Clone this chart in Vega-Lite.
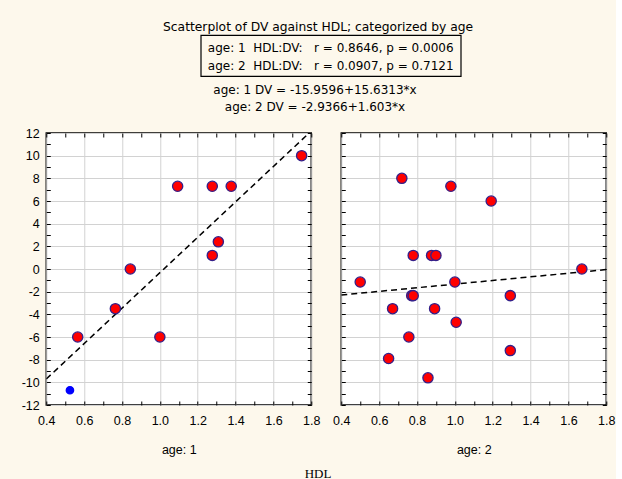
{
  "$schema": "https://vega.github.io/schema/vega-lite/v6.json",
  "background": "#fdf8ec",
  "padding": {"left": 20, "top": 21, "right": 0, "bottom": 0},
  "config": {
    "font": "DejaVu Sans",
    "view": {"stroke": null},
    "axis": {
      "tickColor": "black", "tickSize": -4, "tickWidth": 1, "minExtent": 0,
      "labelColor": "black", "labelFontSize": 12.5, "labelFont": "Liberation Sans",
      "titleColor": "black", "titleFontSize": 12.5, "titleFontWeight": "normal", "titleFont": "Liberation Sans",
      "domain": false, "labelFlush": false, "labelOverlap": false,
      "gridColor": "#d2d2d2", "gridWidth": 1
    },
    "axisX": {"minExtent": 0},
    "axisY": {"minExtent": 0}
  },
  "datasets": {
    "points": [
      {"age": 1, "HDL": 0.525, "DV": -10.7, "marked": true},
      {"age": 1, "HDL": 0.566, "DV": -6.0, "marked": false},
      {"age": 1, "HDL": 0.765, "DV": -3.5, "marked": false},
      {"age": 1, "HDL": 0.844, "DV": 0.0, "marked": false},
      {"age": 1, "HDL": 1.0, "DV": -6.0, "marked": false},
      {"age": 1, "HDL": 1.094, "DV": 7.3, "marked": false},
      {"age": 1, "HDL": 1.277, "DV": 7.3, "marked": false},
      {"age": 1, "HDL": 1.377, "DV": 7.3, "marked": false},
      {"age": 1, "HDL": 1.277, "DV": 1.2, "marked": false},
      {"age": 1, "HDL": 1.309, "DV": 2.4, "marked": false},
      {"age": 1, "HDL": 1.749, "DV": 10.0, "marked": false},
      {"age": 2, "HDL": 0.5, "DV": -1.15, "marked": false},
      {"age": 2, "HDL": 0.72, "DV": 8.0, "marked": false},
      {"age": 2, "HDL": 0.979, "DV": 7.3, "marked": false},
      {"age": 2, "HDL": 1.192, "DV": 6.0, "marked": false},
      {"age": 2, "HDL": 0.78, "DV": 1.2, "marked": false},
      {"age": 2, "HDL": 0.877, "DV": 1.2, "marked": false},
      {"age": 2, "HDL": 0.9, "DV": 1.2, "marked": false},
      {"age": 2, "HDL": 1.671, "DV": 0.0, "marked": false},
      {"age": 2, "HDL": 1.0, "DV": -1.15, "marked": false},
      {"age": 2, "HDL": 0.772, "DV": -2.35, "marked": false},
      {"age": 2, "HDL": 0.78, "DV": -2.35, "marked": false},
      {"age": 2, "HDL": 1.293, "DV": -2.35, "marked": false},
      {"age": 2, "HDL": 0.671, "DV": -3.5, "marked": false},
      {"age": 2, "HDL": 0.893, "DV": -3.5, "marked": false},
      {"age": 2, "HDL": 1.007, "DV": -4.7, "marked": false},
      {"age": 2, "HDL": 0.757, "DV": -6.0, "marked": false},
      {"age": 2, "HDL": 1.293, "DV": -7.2, "marked": false},
      {"age": 2, "HDL": 0.65, "DV": -7.9, "marked": false},
      {"age": 2, "HDL": 0.858, "DV": -9.6, "marked": false}
    ],
    "fits": [
      {"age": 1, "HDL": 0.4, "DV": -9.7071},
      {"age": 1, "HDL": 1.8, "DV": 12.1767},
      {"age": 2, "HDL": 0.4, "DV": -2.2954},
      {"age": 2, "HDL": 1.8, "DV": -0.0512}
    ]
  },
  "title": {"text": "Scatterplot of DV against HDL; categorized by age", "fontSize": 12.3, "fontWeight": "normal", "anchor": "middle", "offset": 1, "color": "black", "font": "DejaVu Sans"},
  "spacing": 4,
  "center": true,
  "vconcat": [
    {
      "width": 260, "height": 41,
      "view": {"stroke": "black", "strokeWidth": 1.2, "fill": null},
      "data": {"values": [
        {"line": 1, "label": "age: 1\u00a0\u00a0HDL:DV:\u00a0\u00a0\u00a0r = 0.8646, p = 0.0006"},
        {"line": 2, "label": "age: 2\u00a0\u00a0HDL:DV:\u00a0\u00a0\u00a0r = 0.0907, p = 0.7121"}
      ]},
      "mark": {"type": "text", "fontSize": 12, "dy": 1.5, "align": "center", "color": "black"},
      "encoding": {
        "y": {"field": "line", "type": "ordinal", "axis": null, "scale": {"type": "point", "padding": 0.639}},
        "text": {"field": "label"}
      }
    },
    {
      "width": 260, "height": 41,
      "data": {"values": [
        {"line": 1, "label": "age: 1 DV = -15.9596+15.6313*x"},
        {"line": 2, "label": "age: 2 DV = -2.9366+1.603*x"}
      ]},
      "mark": {"type": "text", "fontSize": 12, "dy": -3, "dx": -16, "align": "center", "color": "black"},
      "encoding": {
        "y": {"field": "line", "type": "ordinal", "axis": null, "scale": {"type": "point", "padding": 0.706}},
        "text": {"field": "label"}
      }
    },
    {
      "spacing": 10,
      "title": {"text": "HDL", "orient": "bottom", "font": "Liberation Serif", "fontSize": 13, "fontWeight": "normal", "offset": 11, "color": "black", "anchor": "middle"},
      "hconcat": [
        {
          "width": 265, "height": 272,
          "view": {"stroke": "black", "strokeWidth": 1.5, "fill": "white"},
          "layer": [
            {
              "data": {"name": "fits"},
              "transform": [{"filter": "datum.age == 1"}],
              "mark": {"type": "line", "color": "black", "strokeDash": [6, 4], "strokeWidth": 1.5, "clip": true},
              "encoding": {
                "x": {"field": "HDL", "type": "quantitative", "scale": {"domain": [0.4, 1.8], "nice": false, "zero": false},
                  "axis": {"orient": "top", "values": [0.4,0.5,0.6,0.7,0.8,0.9,1.0,1.1,1.2,1.3,1.4,1.5,1.6,1.7,1.8], "labels": false, "grid": false, "title": null}},
                "y": {"field": "DV", "type": "quantitative", "scale": {"domain": [-12, 12], "nice": false, "zero": false},
                  "axis": {"orient": "right", "values": [-12,-11,-10,-9,-8,-7,-6,-5,-4,-3,-2,-1,0,1,2,3,4,5,6,7,8,9,10,11,12], "labels": false, "grid": false, "title": null}}
              }
            },
            {
              "data": {"name": "points"},
              "transform": [{"filter": "datum.age == 1"}],
              "mark": {"type": "circle", "opacity": 1, "strokeWidth": 1.3},
              "encoding": {
                "x": {"field": "HDL", "type": "quantitative", "scale": {"domain": [0.4, 1.8], "nice": false, "zero": false},
                  "axis": {"orient": "bottom", "values": [0.4,0.5,0.6,0.7,0.8,0.9,1.0,1.1,1.2,1.3,1.4,1.5,1.6,1.7,1.8],
                    "labelExpr": "abs(round(datum.value*10))%2==0 ? format(datum.value,'.1f') : ''",
                    "grid": true, "gridOpacity": {"condition": {"test": "abs(round(datum.value*10))%2==0", "value": 1}, "value": 0},
                    "labelPadding": 13, "title": "age: 1", "titlePadding": 17}},
                "y": {"field": "DV", "type": "quantitative", "scale": {"domain": [-12, 12], "nice": false, "zero": false},
                  "axis": {"orient": "left", "values": [-12,-11,-10,-9,-8,-7,-6,-5,-4,-3,-2,-1,0,1,2,3,4,5,6,7,8,9,10,11,12],
                    "labelExpr": "datum.value%2==0 ? ''+datum.value : ''",
                    "grid": true, "gridOpacity": {"condition": {"test": "datum.value%2==0", "value": 1}, "value": 0},
                    "labelPadding": 11, "title": null}},
                "fill": {"condition": {"test": "datum.marked", "value": "#0000ff"}, "value": "#ff0000"},
                "stroke": {"condition": {"test": "datum.marked", "value": "#0000ff"}, "value": "#34208a"},
                "size": {"condition": {"test": "datum.marked", "value": 55}, "value": 105}
              }
            }
          ],
          "resolve": {"axis": {"x": "independent", "y": "independent"}}
        },
        {
          "width": 265, "height": 272,
          "view": {"stroke": "black", "strokeWidth": 1.5, "fill": "white"},
          "layer": [
            {
              "data": {"name": "fits"},
              "transform": [{"filter": "datum.age == 2"}],
              "mark": {"type": "line", "color": "black", "strokeDash": [6, 4], "strokeWidth": 1.5, "clip": true},
              "encoding": {
                "x": {"field": "HDL", "type": "quantitative", "scale": {"domain": [0.4, 1.8], "nice": false, "zero": false},
                  "axis": {"orient": "top", "values": [0.4,0.5,0.6,0.7,0.8,0.9,1.0,1.1,1.2,1.3,1.4,1.5,1.6,1.7,1.8], "labels": false, "grid": false, "title": null}},
                "y": {"field": "DV", "type": "quantitative", "scale": {"domain": [-12, 12], "nice": false, "zero": false},
                  "axis": {"orient": "right", "values": [-12,-11,-10,-9,-8,-7,-6,-5,-4,-3,-2,-1,0,1,2,3,4,5,6,7,8,9,10,11,12], "labels": false, "grid": false, "title": null}}
              }
            },
            {
              "data": {"name": "points"},
              "transform": [{"filter": "datum.age == 2"}],
              "mark": {"type": "circle", "opacity": 1, "strokeWidth": 1.3},
              "encoding": {
                "x": {"field": "HDL", "type": "quantitative", "scale": {"domain": [0.4, 1.8], "nice": false, "zero": false},
                  "axis": {"orient": "bottom", "values": [0.4,0.5,0.6,0.7,0.8,0.9,1.0,1.1,1.2,1.3,1.4,1.5,1.6,1.7,1.8],
                    "labelExpr": "abs(round(datum.value*10))%2==0 ? format(datum.value,'.1f') : ''",
                    "grid": true, "gridOpacity": {"condition": {"test": "abs(round(datum.value*10))%2==0", "value": 1}, "value": 0},
                    "labelPadding": 13, "title": "age: 2", "titlePadding": 17}},
                "y": {"field": "DV", "type": "quantitative", "scale": {"domain": [-12, 12], "nice": false, "zero": false},
                  "axis": {"orient": "left", "values": [-12,-11,-10,-9,-8,-7,-6,-5,-4,-3,-2,-1,0,1,2,3,4,5,6,7,8,9,10,11,12],
                    "labels": false,
                    "grid": true, "gridOpacity": {"condition": {"test": "datum.value%2==0", "value": 1}, "value": 0},
                    "title": null}},
                "fill": {"condition": {"test": "datum.marked", "value": "#0000ff"}, "value": "#ff0000"},
                "stroke": {"condition": {"test": "datum.marked", "value": "#0000ff"}, "value": "#34208a"},
                "size": {"condition": {"test": "datum.marked", "value": 55}, "value": 105}
              }
            }
          ],
          "resolve": {"axis": {"x": "independent", "y": "independent"}}
        }
      ]
    }
  ]
}
